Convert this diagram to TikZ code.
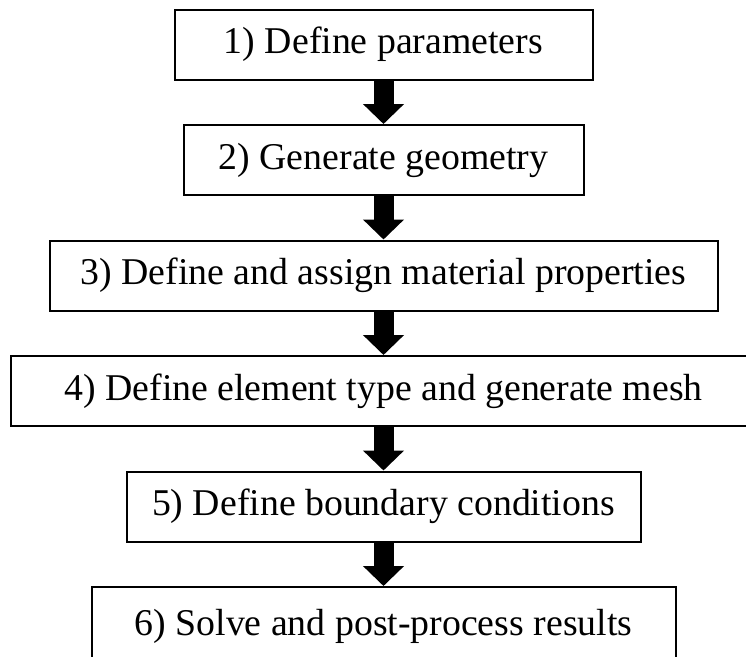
\documentclass[tikz,border=0pt]{standalone}
\usepackage{fontspec}
\setmainfont{Liberation Serif}
\usetikzlibrary{arrows.meta, positioning}

\begin{document}
\begin{tikzpicture}[x=1pt, y=-1pt]
			\tikzset {node distance=43.5pt, box/.style={draw, line width=2pt, minimum height=70pt, inner sep=0pt, font=\fontsize{37.8pt}{44pt}\selectfont}, flow/.style={line width=20pt, -{Triangle[width=40pt, length=20pt]}} }
			\useasboundingbox (0,0) rectangle (746,656);
			
			\node[box, minimum width=418pt] (1) at (383.5,44.5) {1) Define parameters};
			\node[box, minimum width=400pt, below=of 1] (2) {2) Generate geometry};
			\node[box, minimum width=668pt, below=of 2] (3) {3) Define and assign material properties};
			\node[box, minimum width=746pt, below=of 3] (4) {4) Define element type and generate mesh};
			\node[box, minimum width=514pt, below=of 4] (5) {5) Define boundary conditions};
			\node[box, minimum width=584pt, minimum height=76pt, text depth=6pt, below=of 5] (6) {6) Solve and post-process results};
			
			\draw[flow]
				(1) edge (2)
				(2) edge (3)
				(3) edge (4)
				(4) edge (5)
				(5) edge (6);
		\end{tikzpicture}
\end{document}
